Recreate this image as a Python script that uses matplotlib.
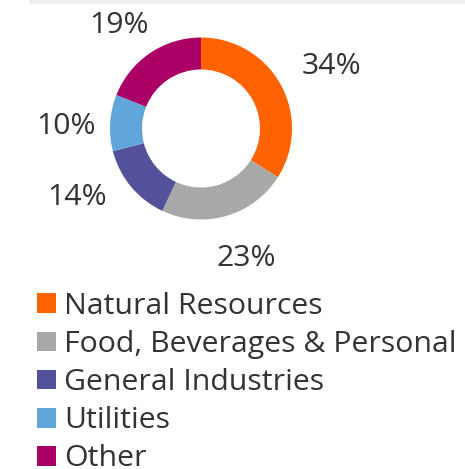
import matplotlib
matplotlib.use("Agg")
import matplotlib.pyplot as plt
import matplotlib.patches as mpatches
import numpy as np

categories = ["Natural Resources", "Food, Beverages & Personal", "General Industries", "Utilities", "Other"]
values = [34, 23, 14, 10, 19]
colors = ["#ff6200", "#a8a8a8", "#525199", "#60a6da", "#ab0066"]

W, H = 465, 469
fig = plt.figure(figsize=(W / 100, H / 100), dpi=100)
fig.patch.set_facecolor("white")
ax = fig.add_axes([0, 0, 1, 1])

FONT = "Open Sans"
TXT = "#333333"
FS = 21.8

# top strip
ax.add_patch(mpatches.Rectangle((29, H - 3.5), W - 29, 3.5, color="#f0f0f0", lw=0))

cx, cy, R = 201, H - 128.5, 91
wedges, _ = ax.pie(values, colors=colors, startangle=90, counterclock=False,
                   center=(cx, cy), radius=R, frame=True,
                   wedgeprops=dict(width=32, linewidth=0))
ax.set_xlim(0, W)
ax.set_ylim(0, H)
ax.set_aspect("equal")
ax.axis("off")

# data label placement (pixel position of each label centre, from top-left)
label_xy = [(331, 66), (246, 258), (77, 197), (66, 126), (119, 25)]
for v, (lx, ly) in zip(values, label_xy):
    ax.text(lx, H - ly, f"{v}%", ha="center", va="center", fontsize=FS,
            color=TXT, family=FONT)

leg = fig.legend(wedges, categories, loc="upper left", bbox_to_anchor=(37 / W, 1 - 292 / H),
                 frameon=False, handlelength=0.63, handleheight=0.63,
                 handletextpad=0.26, labelspacing=0.3, borderpad=0, borderaxespad=0,
                 prop=dict(family=FONT, size=FS))
for t in leg.get_texts():
    t.set_color(TXT)

fig.savefig("out.png", dpi=100, facecolor="white")
